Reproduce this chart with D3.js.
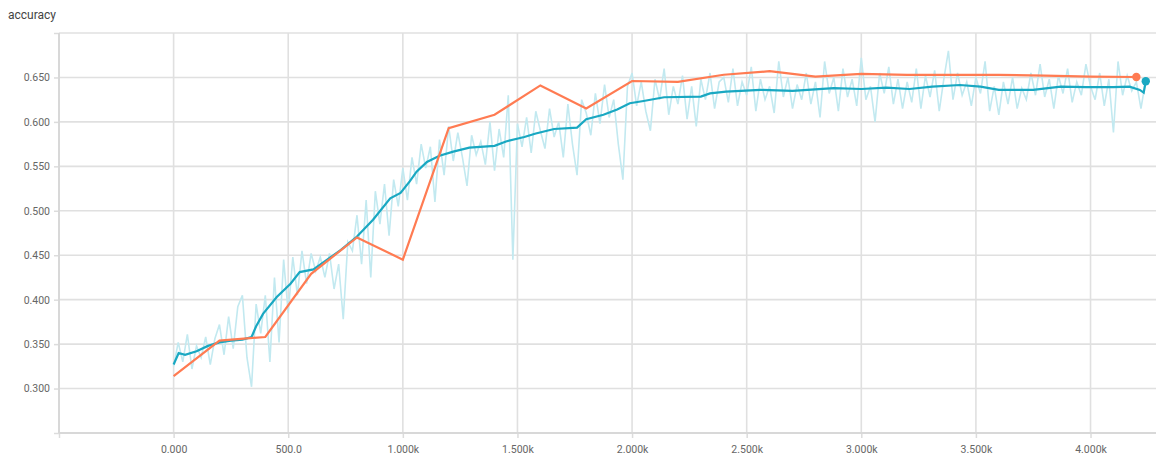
<!DOCTYPE html>
<html>
<head>
<meta charset="utf-8">
<script src="https://cdnjs.cloudflare.com/ajax/libs/d3/7.8.5/d3.min.js"></script>
<style>
    body { margin: 0; background: #fff; }
    svg text { font-family: Roboto, "Noto Sans", sans-serif; }
    .grid line { stroke: #e0e0e0; stroke-width: 1.6; }
    .axis path { display: none; }
    .axis line { stroke: #dcdcdc; stroke-width: 1.5; }
    .axis text { fill: #666; font-size: 10.5px; }
</style>
</head>
<body>
<div id="chart"></div>
<script>
var chartTitle = "accuracy";

// validation accuracy, every 200 steps
var valSteps = [0, 200, 400, 600, 800, 1000, 1200, 1400, 1600, 1800, 2000, 2200, 2400, 2600, 2800, 3000, 3200, 3400, 3600, 3800, 4000, 4200];
var valAcc = [0.314, 0.354, 0.358, 0.429, 0.470, 0.445, 0.593, 0.608, 0.641, 0.615, 0.646, 0.645, 0.653, 0.657, 0.651, 0.654, 0.653, 0.653, 0.653, 0.652, 0.651, 0.6505];

// raw training accuracy, one value every 20 steps starting at 0
var rawStart = 0, rawEvery = 20;
var rawAcc = [
    0.325, 0.352, 0.330, 0.361, 0.322, 0.348, 0.335, 0.358, 0.327, 0.356,
    0.372, 0.338, 0.381, 0.345, 0.392, 0.405, 0.335, 0.302, 0.395, 0.362,
    0.405, 0.330, 0.425, 0.352, 0.445, 0.385, 0.448, 0.405, 0.455, 0.418,
    0.452, 0.432, 0.448, 0.425, 0.452, 0.412, 0.440, 0.378, 0.465, 0.455,
    0.495, 0.440, 0.512, 0.425, 0.522, 0.485, 0.530, 0.472, 0.535, 0.505,
    0.548, 0.512, 0.560, 0.530, 0.575, 0.548, 0.572, 0.510, 0.580, 0.540,
    0.595, 0.556, 0.588, 0.560, 0.528, 0.585, 0.563, 0.578, 0.552, 0.600,
    0.545, 0.592, 0.560, 0.630, 0.445, 0.598, 0.572, 0.605, 0.565, 0.612,
    0.590, 0.570, 0.615, 0.583, 0.600, 0.560, 0.620, 0.575, 0.540, 0.625,
    0.610, 0.585, 0.632, 0.598, 0.642, 0.605, 0.625, 0.575, 0.535, 0.640,
    0.655, 0.618, 0.645, 0.612, 0.590, 0.648, 0.625, 0.660, 0.608, 0.640,
    0.620, 0.652, 0.603, 0.640, 0.595, 0.648, 0.625, 0.655, 0.615, 0.645,
    0.650, 0.622, 0.660, 0.618, 0.645, 0.630, 0.662, 0.612, 0.648, 0.625,
    0.640, 0.610, 0.668, 0.628, 0.650, 0.615, 0.642, 0.625, 0.655, 0.620,
    0.645, 0.605, 0.668, 0.632, 0.650, 0.612, 0.660, 0.628, 0.648, 0.618,
    0.672, 0.625, 0.640, 0.600, 0.655, 0.632, 0.662, 0.620, 0.648, 0.615,
    0.645, 0.622, 0.660, 0.615, 0.652, 0.628, 0.658, 0.612, 0.648, 0.680,
    0.625, 0.655, 0.630, 0.645, 0.618, 0.650, 0.632, 0.668, 0.612, 0.640,
    0.608, 0.645, 0.620, 0.650, 0.615, 0.638, 0.625, 0.655, 0.630, 0.665,
    0.628, 0.648, 0.615, 0.652, 0.632, 0.660, 0.622, 0.645, 0.630, 0.665,
    0.640, 0.625, 0.655, 0.618, 0.648, 0.588, 0.668, 0.630, 0.652, 0.635,
    0.645, 0.615, 0.6457
];

// smoothed training accuracy
var smoothSteps = [0, 22, 50, 100, 150, 200, 250, 300, 340, 360, 390, 450, 510, 550, 610, 670, 730, 800, 870, 945, 990, 1030, 1060, 1105, 1160, 1220, 1290, 1400, 1450, 1530, 1580, 1660, 1760, 1800, 1875, 1935, 1990, 2050, 2140, 2300, 2340, 2410, 2560, 2700, 2880, 3000, 3110, 3210, 3310, 3430, 3520, 3600, 3750, 3870, 3980, 4100, 4170, 4215, 4232, 4241];
var smoothAcc = [0.327, 0.340, 0.338, 0.342, 0.348, 0.352, 0.354, 0.355, 0.358, 0.370, 0.384, 0.403, 0.418, 0.431, 0.434, 0.445, 0.456, 0.471, 0.490, 0.514, 0.520, 0.533, 0.544, 0.555, 0.562, 0.5665, 0.571, 0.573, 0.578, 0.583, 0.587, 0.592, 0.5935, 0.603, 0.608, 0.614, 0.621, 0.6235, 0.6277, 0.6284, 0.632, 0.634, 0.636, 0.635, 0.638, 0.637, 0.6385, 0.637, 0.6396, 0.6415, 0.6396, 0.636, 0.636, 0.6396, 0.639, 0.639, 0.6396, 0.636, 0.633, 0.6457];

var xTicks = [-500, 0, 500, 1000, 1500, 2000, 2500, 3000, 3500, 4000];
var xTickLabels = ["", "0.000", "500.0", "1.000k", "1.500k", "2.000k", "2.500k", "3.000k", "3.500k", "4.000k"];
var yTicks = [0.25, 0.30, 0.35, 0.40, 0.45, 0.50, 0.55, 0.60, 0.65, 0.70];
var yTickLabels = ["", "0.300", "0.350", "0.400", "0.450", "0.500", "0.550", "0.600", "0.650", ""];

var width = 1156, height = 457;
var plotLeft = 59, plotTop = 33, plotBottom = 433, plotRight = 1157;

var svg = d3.select("#chart").append("svg")
    .attr("width", width)
    .attr("height", height);

var x = d3.scaleLinear().domain([-500, 4290]).range([plotLeft, plotRight]);
var y = d3.scaleLinear().domain([0.25, 0.70]).range([plotBottom, plotTop]);

svg.append("text")
    .attr("x", 8)
    .attr("y", 19)
    .attr("font-size", "12px")
    .attr("fill", "#444")
    .text(chartTitle);

// grid
var grid = svg.append("g").attr("class", "grid");
grid.selectAll("line.h")
    .data(yTicks)
    .enter()
    .append("line")
    .attr("class", "h")
    .attr("x1", plotLeft)
    .attr("x2", plotRight)
    .attr("y1", function(d){ return y(d); })
    .attr("y2", function(d){ return y(d); });
grid.selectAll("line.v")
    .data(xTicks)
    .enter()
    .append("line")
    .attr("class", "v")
    .attr("x1", function(d){ return x(d); })
    .attr("x2", function(d){ return x(d); })
    .attr("y1", plotTop)
    .attr("y2", plotBottom);

var xAxis = d3.axisBottom(x)
    .tickValues(xTicks)
    .tickSize(5)
    .tickPadding(8)
    .tickFormat(function(d, i){ return xTickLabels[i]; });
svg.append("g")
    .attr("class", "axis")
    .attr("transform", "translate(0," + plotBottom + ")")
    .call(xAxis);

var yAxis = d3.axisLeft(y)
    .tickValues(yTicks)
    .tickSize(5)
    .tickPadding(4)
    .tickFormat(function(d, i){ return yTickLabels[i]; });
svg.append("g")
    .attr("class", "axis")
    .attr("transform", "translate(" + plotLeft + ",0)")
    .call(yAxis);

// axis lines on top of grid
svg.append("line")
    .attr("x1", plotLeft).attr("x2", plotRight)
    .attr("y1", plotBottom).attr("y2", plotBottom)
    .attr("stroke", "#d8d8d8").attr("stroke-width", 2);
svg.append("line")
    .attr("x1", plotLeft).attr("x2", plotLeft)
    .attr("y1", plotTop).attr("y2", plotBottom)
    .attr("stroke", "#d8d8d8").attr("stroke-width", 2);

var rawData = rawAcc.map(function(v, i){ return [rawStart + i * rawEvery, v]; });
var smoothData = smoothSteps.map(function(s, i){ return [s, smoothAcc[i]]; });
var valData = valSteps.map(function(s, i){ return [s, valAcc[i]]; });

var line = d3.line()
    .x(function(d){ return x(d[0]); })
    .y(function(d){ return y(d[1]); });

var teal = "#19a8c2", orange = "#ff7b52";

svg.append("path")
    .datum(rawData)
    .attr("d", line)
    .attr("fill", "none")
    .attr("stroke", "#c2e9f0")
    .attr("stroke-width", 1.6);

svg.append("path")
    .datum(smoothData)
    .attr("d", line)
    .attr("fill", "none")
    .attr("stroke", teal)
    .attr("stroke-width", 2.2);

svg.append("path")
    .datum(valData)
    .attr("d", line)
    .attr("fill", "none")
    .attr("stroke", orange)
    .attr("stroke-width", 2.2);

var lastVal = valData[valData.length - 1];
svg.append("circle")
    .attr("cx", x(lastVal[0]))
    .attr("cy", y(lastVal[1]))
    .attr("r", 4.2)
    .attr("fill", orange);

var lastSmooth = smoothData[smoothData.length - 1];
svg.append("circle")
    .attr("cx", x(lastSmooth[0]))
    .attr("cy", y(lastSmooth[1]))
    .attr("r", 4.2)
    .attr("fill", teal);
</script>
</body>
</html>
